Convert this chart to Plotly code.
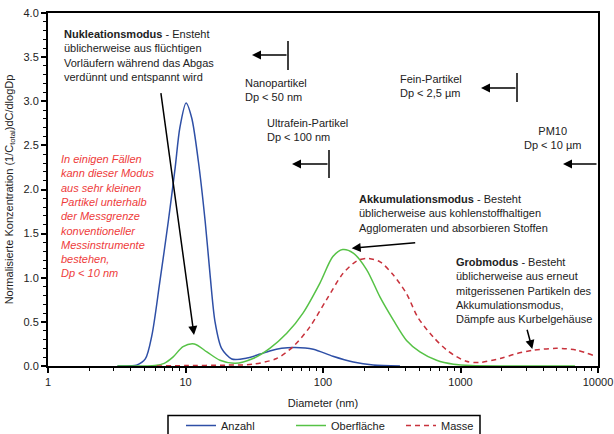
import plotly.graph_objects as go

# ---- data ----
anzahl_d = [3.2, 4.0, 4.4, 5.1, 5.7, 6.5, 7.5, 8.4, 9.1, 10.1, 11.1, 12.4, 13.9, 15.1, 16.4, 18.3, 21.7,
            28, 35, 41, 50, 62.5, 85, 118, 166, 232, 363]
anzahl_y = [0.0, 0.003, 0.01, 0.08, 0.35, 0.95, 1.64, 2.24, 2.70, 2.98, 2.81, 2.32, 1.64, 1.03, 0.50, 0.20, 0.08,
            0.09, 0.135, 0.17, 0.20, 0.21, 0.19, 0.11, 0.045, 0.01, 0.0]

oberflaeche_d = [3.2, 6.0, 7.0, 8.1, 9.6, 11.6, 14.3, 17.8, 23, 31, 41, 54.5, 71.5, 95, 118, 139, 166, 208,
                 260, 325, 405, 507, 670, 890, 1200, 2000, 6800]
oberflaeche_y = [0.0, 0.005, 0.03, 0.10, 0.22, 0.25, 0.16, 0.065, 0.03, 0.085, 0.20, 0.37, 0.60, 0.94, 1.24,
                 1.32, 1.28, 1.09, 0.78, 0.52, 0.29, 0.16, 0.065, 0.02, 0.005, 0.0, 0.0]

masse_d = [6.2, 10, 20, 31, 46, 60.7, 80, 106, 140, 176, 208, 260, 325, 405, 490, 633, 810, 1100, 1370,
           1940, 2560, 3400, 5000, 6990, 9250]
masse_y = [0.0, 0.005, 0.01, 0.02, 0.085, 0.22, 0.44, 0.75, 1.05, 1.19, 1.22, 1.18, 1.03, 0.82, 0.55, 0.33,
           0.17, 0.053, 0.04, 0.085, 0.14, 0.18, 0.20, 0.18, 0.12]

x_tickvals = [1, 10, 100, 1000, 10000]
x_ticktext = ["1", "10", "100", "1000", "10000"]

FONT = "Liberation Sans, Arial, sans-serif"
BLUE = "#2E4FA6"
GREEN = "#56C246"
RED = "#C8323C"
TXT_RED = "#EE3B3B"

# plot area in pixels
L, R, T, B = 48, 598, 13, 366
W, H = 614, 434


def px(x):
    return (x - L) / (R - L)


def py(y):
    return (B - y) / (B - T)


fig = go.Figure()
fig.add_trace(go.Scatter(x=anzahl_d, y=anzahl_y, name="Anzahl", mode="lines",
                         line=dict(color=BLUE, width=1.5, shape="spline", smoothing=0.8)))
fig.add_trace(go.Scatter(x=oberflaeche_d, y=oberflaeche_y, name="Oberfläche", mode="lines",
                         line=dict(color=GREEN, width=1.5, shape="spline", smoothing=0.8)))
fig.add_trace(go.Scatter(x=masse_d, y=masse_y, name="Masse", mode="lines",
                         line=dict(color=RED, width=1.5, shape="spline", smoothing=0.8, dash="5px,4px")))

annotations = []


def text(x, y, t, anchor="left", color="#222222", size=11):
    annotations.append(dict(xref="paper", yref="paper", x=px(x), y=py(y), text=t, showarrow=False,
                            xanchor=anchor, yanchor="middle", align=anchor,
                            font=dict(family=FONT, size=size, color=color)))


def arrow(tx, ty, hx, hy, width=1.5):
    annotations.append(dict(xref="paper", yref="paper", x=px(hx), y=py(hy), ax=tx - hx, ay=ty - hy,
                            text="", showarrow=True, arrowhead=2, arrowsize=1.2, arrowwidth=width,
                            arrowcolor="black"))


text(62, 55, "<b>Nukleationsmodus</b> - Ensteht<br>üblicherweise aus flüchtigen<br>"
             "Vorläufern während das Abgas<br>verdünnt und entspannt wird")
text(243, 90, "Nanopartikel<br>Dp < 50 nm")
text(265, 130, "Ultrafein-Partikel<br>Dp < 100 nm")
text(398, 86.5, "Fein-Partikel<br>Dp < 2,5 µm")
text(552, 137.5, "PM10<br>Dp < 10 µm", anchor="center")
text(59, 215.5, "<i>In einigen Fällen<br>kann dieser Modus<br>aus sehr kleinen<br>Partikel unterhalb<br>"
                "der Messgrenze<br>konventioneller<br>Messinstrumente<br>bestehen,<br>Dp < 10 nm</i>",
     color=TXT_RED)
text(357, 214, "<b>Akkumulationsmodus</b> - Besteht<br>üblicherweise aus kohlenstoffhaltigen<br>"
               "Agglomeraten und absorbieren Stoffen")
text(454, 290, "<b>Grobmodus</b> - Besteht<br>üblicherweise aus erneut<br>mitgerissenen Partikeln des<br>"
               "Akkumulationsmodus,<br>Dämpfe aus Kurbelgehäuse")

arrow(160.7, 91.7, 194, 335)
arrow(416.7, 242.7, 351.7, 248.3)
arrow(526.7, 328.3, 532.3, 349)
arrow(288, 55, 252, 55)
arrow(329, 164, 292, 164)
arrow(517, 88, 481, 88)
arrow(598, 164, 563, 164)

shapes = []
for bx, y0, y1 in [(288, 41, 70), (329, 150, 178), (517, 73, 102)]:
    shapes.append(dict(type="line", xref="paper", yref="paper", x0=px(bx), x1=px(bx), y0=py(y0), y1=py(y1),
                       line=dict(color="black", width=1.5)))
# legend frame (extends below the visible page like in the reference)
shapes.append(dict(type="rect", xref="paper", yref="paper", x0=px(168), x1=px(480), y0=py(445), y1=py(415.5),
                   line=dict(color="black", width=1.5), fillcolor="rgba(0,0,0,0)", layer="above"))

fig.update_layout(
    width=W, height=H,
    margin=dict(l=L, r=W - R, t=T, b=H - B, autoexpand=False),
    paper_bgcolor="white", plot_bgcolor="white",
    font=dict(family=FONT, size=11, color="#222222"),
    annotations=annotations, shapes=shapes,
    showlegend=True,
    legend=dict(orientation="h", x=px(181), y=py(411), xanchor="left", yanchor="top",
                bgcolor="rgba(0,0,0,0)", borderwidth=0, font=dict(family=FONT, size=11, color="#222222"),
                entrywidth=65, entrywidthmode="pixels", itemwidth=30),
)
fig.update_xaxes(type="log", range=[0, 4], tickvals=x_tickvals, ticktext=x_ticktext,
                 showline=True, linecolor="black", linewidth=2, mirror=True, showgrid=False, zeroline=False,
                 ticks="outside", ticklen=5, tickwidth=1.5, tickcolor="black",
                 tickfont=dict(family=FONT, size=11, color="#222222"),
                 minor=dict(ticks="outside", ticklen=3, tickwidth=1, tickcolor="black", dtick="D1", showgrid=False),
                 title=dict(text="Diameter (nm)", font=dict(family=FONT, size=11, color="#222222"), standoff=12))
fig.update_yaxes(range=[0, 4], dtick=0.5, tickformat=".1f",
                 showline=True, linecolor="black", linewidth=2, mirror=True, showgrid=False, zeroline=False,
                 ticks="outside", ticklen=5, tickwidth=1.5, tickcolor="black",
                 tickfont=dict(family=FONT, size=11, color="#222222"),
                 minor=dict(ticks="outside", ticklen=3, tickwidth=1, tickcolor="black", dtick=0.1, showgrid=False),
                 title=dict(text="Normalisierte Konzentration (1/C<sub>total</sub>)dC/dlogDp",
                            font=dict(family=FONT, size=11, color="#222222"), standoff=8))

fig.write_html("out.html", config={"displayModeBar": False},
               post_script="document.body.style.margin='0';document.body.style.overflow='hidden';")
